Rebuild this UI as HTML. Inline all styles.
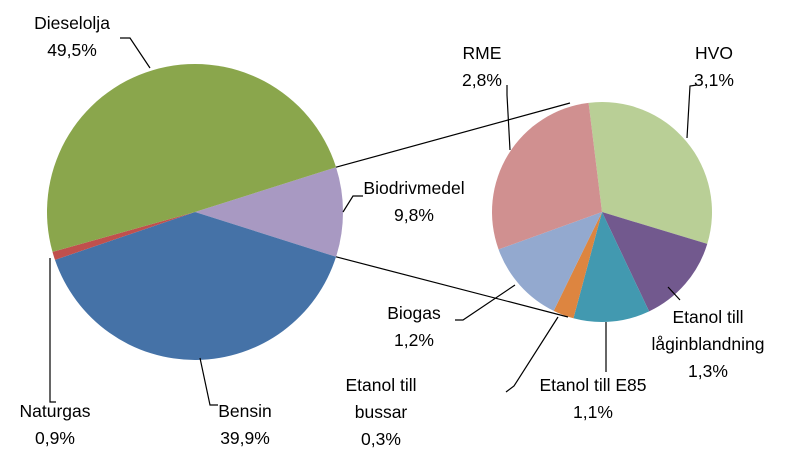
<!DOCTYPE html>
<html><head><meta charset="utf-8"><style>
body{margin:0;background:#fff}
svg text{font-family:"Liberation Sans",sans-serif;font-size:17.5px;fill:#000;text-anchor:middle}
</style></head><body>
<svg id="c" width="785" height="454" viewBox="0 0 785 454" xmlns="http://www.w3.org/2000/svg"></svg>
<script>
const mainCats=["Biodrivmedel","Bensin","Naturgas","Dieselolja"];
const mainVals=[9.8,39.9,0.9,49.5];
const mainColors=["#A899C2","#4572A7","#C0504D","#8AA64C"];
const subCats=["HVO","Etanol till låginblandning","Etanol till E85","Etanol till bussar","Biogas","RME"];
const subVals=[3.1,1.3,1.1,0.3,1.2,2.8];
const subColors=["#B9CF96","#72598E","#4299B0","#DD8540","#93A9CF","#D09090"];
const svg=document.getElementById('c');const NS="http://www.w3.org/2000/svg";
function mk(t,a){const e=document.createElementNS(NS,t);for(const k in a)e.setAttribute(k,a[k]);svg.appendChild(e);return e;}
function pt(cx,cy,r,a){const d=a*Math.PI/180;return [cx+r*Math.cos(d),cy+r*Math.sin(d)];}
function pie(cats,vals,cols,cx,cy,r,start,prefix){
  const tot=vals.reduce((a,b)=>a+b,0);let a=start;const edges=[];
  vals.forEach((v,i)=>{const sw=v/tot*360;const p1=pt(cx,cy,r,a),p2=pt(cx,cy,r,a+sw);
    const p=mk('path',{d:`M${cx},${cy}L${p1[0]},${p1[1]}A${r},${r} 0 ${sw>180?1:0} 1 ${p2[0]},${p2[1]}Z`,fill:cols[i]});
    
    
    edges.push([a,a+sw]);a+=sw;});
  return edges;}
const mTot=mainVals.reduce((a,b)=>a+b,0);
const bioSw=mainVals[0]/mTot*360;
pie(mainCats,mainVals,mainColors,195,212,148,-bioSw/2,'main');
pie(subCats,subVals,subColors,602,212,110,-97,'sub');
const a1=pt(195,212,148,-bioSw/2),a2=pt(195,212,148,bioSw/2);
let l=mk('line',{x1:a1[0],y1:a1[1],x2:570,y2:103,stroke:'#000','stroke-width':1.2});

l=mk('line',{x1:a2[0],y1:a2[1],x2:568,y2:317,stroke:'#000','stroke-width':1.2});

const leaders=[
 ["120,38 130,38 150,68"],["343,212 353,196 363,196"],["50,258 50,402 56,402"],["200,358 210,405 218,405"],
 ["507,85 507,95 510,150"],["697,85 690,86 687,138"],["455,320 463,320 515,285"],["506,392 514,386 558,317"],
 ["606,372 606,322"],["680,300 668,287"]];
leaders.forEach((p,i)=>{const e=mk('polyline',{points:p[0],fill:'none',stroke:'#000','stroke-width':1.2});
 });
const labels=[
 [72,29,["Dieselolja","49,5%"]],[414,194,["Biodrivmedel","9,8%"]],[55,417,["Naturgas","0,9%"]],[245,417,["Bensin","39,9%"]],
 [482,59,["RME","2,8%"]],[714,59,["HVO","3,1%"]],[414,319,["Biogas","1,2%"]],[381,391,["Etanol till","bussar","0,3%"]],
 [593,391,["Etanol till E85","1,1%"]],[708,323,["Etanol till","låginblandning","1,3%"]]];
labels.forEach((L,i)=>{const t=mk('text',{x:L[0],y:L[1]});
 
 
 L[2].forEach((s,j)=>{const ts=document.createElementNS(NS,'tspan');ts.setAttribute('x',L[0]);ts.setAttribute('dy',j?27:0);ts.textContent=s;t.appendChild(ts);});});
</script>
</body></html>
